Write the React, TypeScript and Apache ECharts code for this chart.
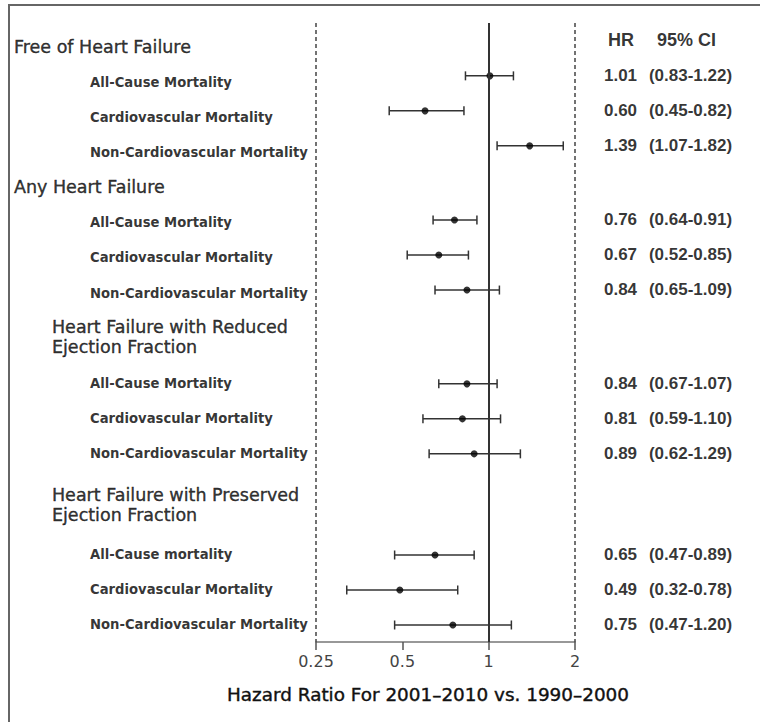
import React, { useEffect, useRef } from "react";
import * as echarts from "echarts";

// ---- data ----
const groupTitles = [
  "Free of Heart Failure",
  "Any Heart Failure",
  "Heart Failure with Reduced\nEjection Fraction",
  "Heart Failure with Preserved\nEjection Fraction",
];
const groupRow = [0.69, 4.69, 8.97, 13.77];

const outcomes = [
  "All-Cause Mortality",
  "Cardiovascular Mortality",
  "Non-Cardiovascular Mortality",
  "All-Cause Mortality",
  "Cardiovascular Mortality",
  "Non-Cardiovascular Mortality",
  "All-Cause Mortality",
  "Cardiovascular Mortality",
  "Non-Cardiovascular Mortality",
  "All-Cause mortality",
  "Cardiovascular Mortality",
  "Non-Cardiovascular Mortality",
];
const hazardRatio = [1.01, 0.6, 1.39, 0.76, 0.67, 0.84, 0.84, 0.81, 0.89, 0.65, 0.49, 0.75];
const ciLow = [0.83, 0.45, 1.07, 0.64, 0.52, 0.65, 0.67, 0.59, 0.62, 0.47, 0.32, 0.47];
const ciHigh = [1.22, 0.82, 1.82, 0.91, 0.85, 1.09, 1.07, 1.1, 1.29, 0.89, 0.78, 1.2];
const markerRow = [1.51, 2.51, 3.51, 5.63, 6.63, 7.63, 10.31, 11.31, 12.31, 15.2, 16.2, 17.2];
const labelRow = [1.71, 2.71, 3.71, 5.71, 6.71, 7.74, 10.29, 11.29, 12.29, 15.2, 16.2, 17.2];
const headerRow = 0.49;
const rowMax = 17.686;

const xMin = 0.25;
const xMax = 2;
const refValue = 1;
const tableHeaders = ["HR", "95% CI"];
const axisTitle = "Hazard Ratio For 2001–2010 vs. 1990–2000";

export default function App() {
  const ref = useRef<HTMLDivElement>(null);

  useEffect(() => {
    if (!ref.current) return;
    const chart = echarts.init(ref.current, null, { renderer: "svg" });

    const fmt = (v: number) => v.toFixed(2);

    const option: any = {
      animation: false,
      backgroundColor: "#ffffff",
      grid: { left: 316, right: 185, top: 23, bottom: 80 },
      xAxis: {
        type: "log",
        logBase: 2,
        position: "bottom",
        min: xMin,
        max: xMax,
        name: axisTitle,
        nameLocation: "middle",
        nameGap: 43,
        nameTextStyle: {
          fontFamily: "DejaVu Sans",
          fontSize: 18.4,
          color: "#111",
          textBorderColor: "#111",
          textBorderWidth: 0.4,
          padding: [0, 35, 0, 0],
        },
        axisLine: { show: true, onZero: false, lineStyle: { color: "#777", width: 1.5 } },
        axisTick: { show: true, length: 8, lineStyle: { color: "#555", width: 1.5 } },
        axisLabel: {
          fontFamily: "DejaVu Sans",
          fontSize: 16,
          color: "#444",
          margin: 11,
          formatter: (v: number) => String(+v.toFixed(4)),
        },
        splitLine: { show: false },
      },
      yAxis: {
        type: "value",
        inverse: true,
        min: 0,
        max: rowMax,
        show: false,
        splitLine: { show: false },
      },
      graphic: [
        {
          type: "line",
          shape: { x1: 8, y1: 5, x2: 760, y2: 5 },
          style: { stroke: "#666", lineWidth: 2 },
          silent: true,
        },
        {
          type: "line",
          shape: { x1: 9, y1: 5, x2: 9, y2: 722 },
          style: { stroke: "#666", lineWidth: 2 },
          silent: true,
        },
      ],
      series: [
        // confidence intervals
        {
          type: "custom",
          clip: false,
          encode: { x: [0, 1], y: 2 },
          data: hazardRatio.map((_, i) => [ciLow[i], ciHigh[i], markerRow[i]]),
          renderItem: (params: any, api: any) => {
            const p1 = api.coord([api.value(0), api.value(2)]);
            const p2 = api.coord([api.value(1), api.value(2)]);
            const cap = 4.5;
            const st = { stroke: "#333", lineWidth: 1.5 };
            return {
              type: "group",
              children: [
                { type: "line", shape: { x1: p1[0], y1: p1[1], x2: p2[0], y2: p2[1] }, style: st },
                { type: "line", shape: { x1: p1[0], y1: p1[1] - cap, x2: p1[0], y2: p1[1] + cap }, style: st },
                { type: "line", shape: { x1: p2[0], y1: p2[1] - cap, x2: p2[0], y2: p2[1] + cap }, style: st },
              ],
            };
          },
          z: 3,
        },
        // point estimates + reference lines
        {
          type: "scatter",
          clip: false,
          symbol: "circle",
          symbolSize: 7,
          itemStyle: { color: "#000" },
          data: hazardRatio.map((v, i) => [v, markerRow[i]]),
          z: 4,
          markLine: {
            silent: true,
            symbol: "none",
            label: { show: false },
            data: [
              { xAxis: xMin, lineStyle: { color: "#444", width: 1.5, type: [4, 3] } },
              { xAxis: refValue, lineStyle: { color: "#333", width: 2, type: "solid" } },
              { xAxis: xMax, lineStyle: { color: "#444", width: 1.5, type: [4, 3] } },
            ],
          },
        },
        // right-hand table
        {
          type: "scatter",
          clip: false,
          symbolSize: 0.1,
          itemStyle: { color: "transparent" },
          silent: true,
          data: hazardRatio.map((v, i) => ({
            value: [xMax, markerRow[i]],
            hr: fmt(v),
            ci: `(${fmt(ciLow[i])}-${fmt(ciHigh[i])})`,
          })),
          label: {
            show: true,
            position: [29, 0],
            align: "left",
            verticalAlign: "middle",
            formatter: (p: any) => `{hr|${p.data.hr}}{ci|${p.data.ci}}`,
            rich: {
              hr: { fontFamily: "Liberation Sans", fontWeight: "bold", fontSize: 17, color: "#000", width: 45 },
              ci: { fontFamily: "Liberation Sans", fontWeight: "bold", fontSize: 17, color: "#000" },
            },
          },
        },
        {
          type: "scatter",
          clip: false,
          symbolSize: 0.1,
          itemStyle: { color: "transparent" },
          silent: true,
          data: [[xMax, headerRow]],
          label: {
            show: true,
            position: [33, 0],
            align: "left",
            verticalAlign: "middle",
            formatter: () => `{h|${tableHeaders[0]}}{c|${tableHeaders[1]}}`,
            rich: {
              h: { fontFamily: "Liberation Sans", fontWeight: "bold", fontSize: 18, color: "#000", width: 49 },
              c: { fontFamily: "Liberation Sans", fontWeight: "bold", fontSize: 18, color: "#000" },
            },
          },
        },
        // outcome labels
        {
          type: "scatter",
          clip: false,
          symbolSize: 0.1,
          itemStyle: { color: "transparent" },
          silent: true,
          data: outcomes.map((name, i) => ({ value: [xMin, labelRow[i]], name })),
          label: {
            show: true,
            position: [-226, 0],
            align: "left",
            verticalAlign: "middle",
            formatter: (p: any) => p.name,
            fontFamily: "DejaVu Sans",
            fontWeight: "bold",
            fontSize: 13.2,
            color: "#000",
          },
        },
        // group headers
        {
          type: "scatter",
          clip: false,
          symbolSize: 0.1,
          itemStyle: { color: "transparent" },
          silent: true,
          data: groupTitles.map((name, i) => ({
            value: [xMin, groupRow[i]],
            name,
            label: { position: [name.includes("\n") ? -264 : -302, 0] },
          })),
          label: {
            show: true,
            align: "left",
            verticalAlign: "middle",
            formatter: (p: any) => p.name,
            fontFamily: "DejaVu Sans",
            fontSize: 17.5,
            lineHeight: 20,
            color: "#000",
            textBorderColor: "#000",
            textBorderWidth: 0.4,
          },
        },
      ],
    };

    chart.setOption(option);
    return () => chart.dispose();
  }, []);

  return (
    <div
      ref={ref}
      style={{ position: "fixed", left: 0, top: 0, width: 760, height: 722, background: "#fff" }}
    />
  );
}
